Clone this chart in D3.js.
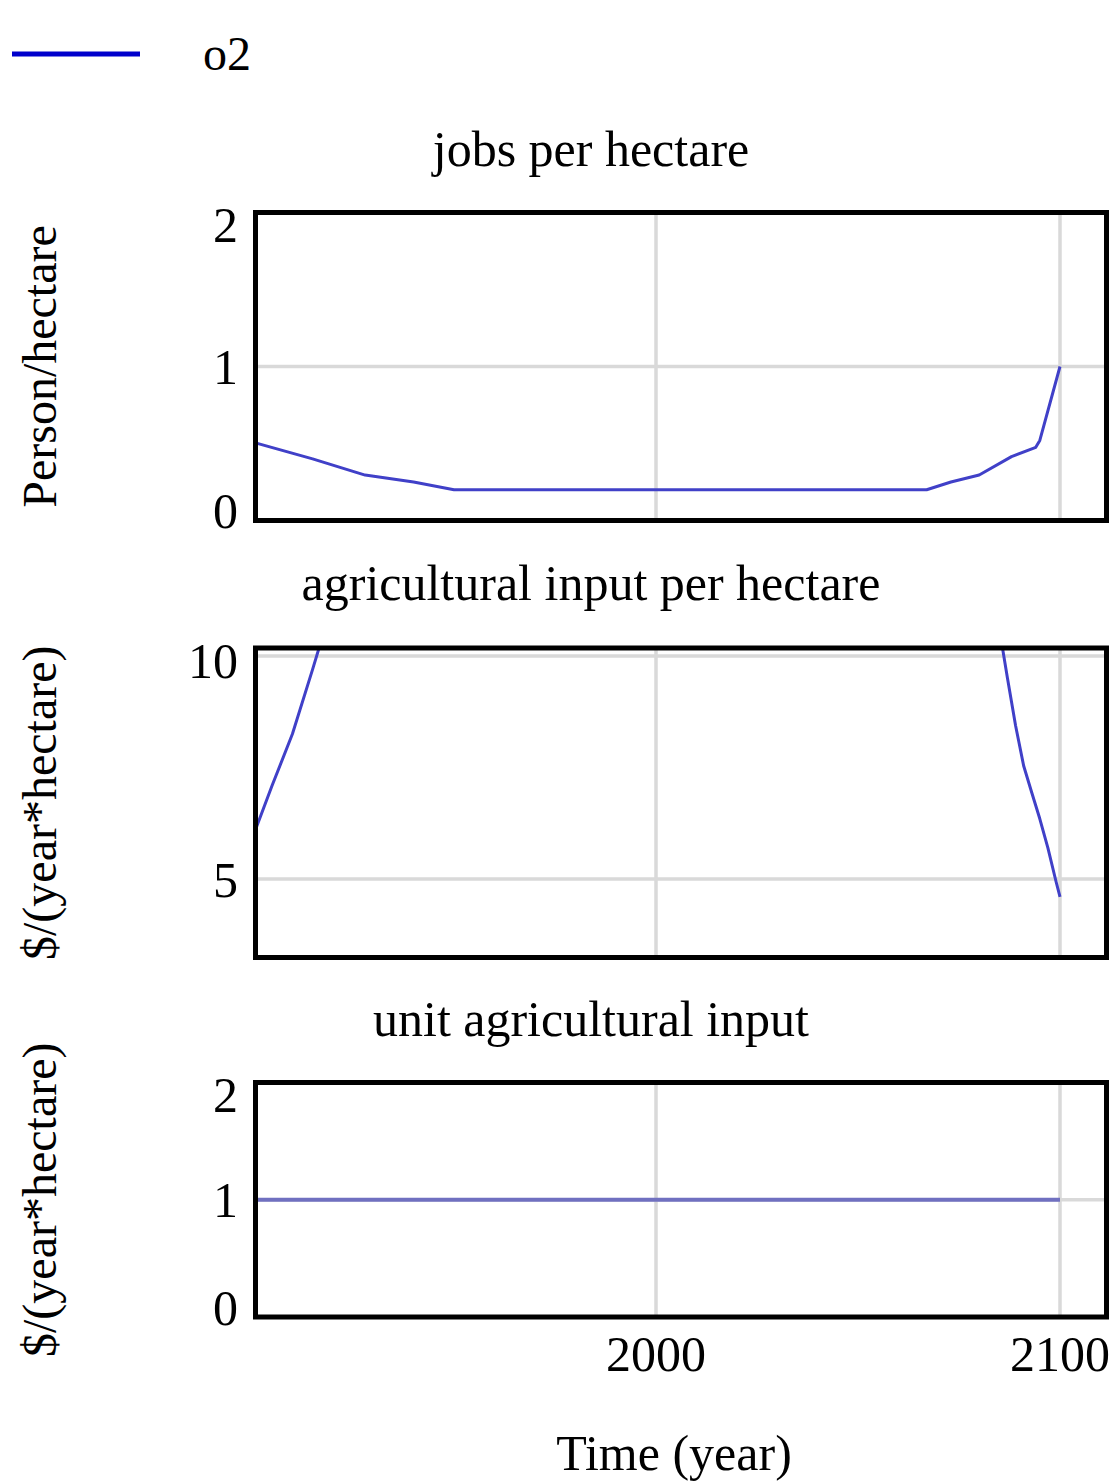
<!DOCTYPE html>
<html>
<head>
<meta charset="utf-8">
<script src="https://cdn.jsdelivr.net/npm/d3@7"></script>
<style>
  html, body { margin: 0; padding: 0; background: #ffffff; }
  svg { display: block; }
  text { font-family: "Liberation Serif", "DejaVu Serif", serif; fill: #000; }
</style>
</head>
<body>
<svg id="chart" width="1113" height="1481"></svg>
<script>
// ---------- data ----------
const seriesName = "o2";
const xTicks = [2000, 2100];
const xTickLabels = ["2000", "2100"];
const xAxisTitle = "Time (year)";

const panelTitles = ["jobs per hectare", "agricultural input per hectare", "unit agricultural input"];
const panelUnits = ["Person/hectare", "$/(year*hectare)", "$/(year*hectare)"];

const yTicks1 = [0, 1, 2];
const yTicks2 = [5, 10];
const yTicks3 = [0, 1, 2];

// jobs per hectare
const jobsYears  = [1900, 1915, 1928, 1940, 1950, 2067, 2073, 2080, 2088, 2094, 2095, 2100];
const jobsValues = [0.51, 0.40, 0.295, 0.25, 0.20, 0.20, 0.25, 0.295, 0.415, 0.475, 0.52, 1.0];

// agricultural input per hectare (middle part is far above the visible range)
const agriYears  = [1900, 1905, 1910, 1915, 1920, 2080, 2085, 2087, 2089, 2091, 2093, 2095, 2097, 2099, 2100];
const agriValues = [5.9, 7.1, 8.25, 9.7, 11.2, 13.0, 10.6, 9.5, 8.44, 7.54, 6.94, 6.35, 5.7, 4.95, 4.6];

// unit agricultural input
const unitYears  = [1900, 2100];
const unitValues = [1, 1];

// ---------- layout ----------
const svg = d3.select("#chart");
const frameLeft = 255.5, frameRight = 1106.5;
const x = d3.scaleLinear().domain([1900, 2100]).range([252, 1060]);

const panels = [
  { title: panelTitles[0], unit: panelUnits[0], years: jobsYears, values: jobsValues,
    ticks: yTicks1, y: d3.scaleLinear().domain([0, 2]).range([520.5, 212.5]),
    top: 212.5, bottom: 520.5, titleY: 166, lineColor: "#4040c8" },
  { title: panelTitles[1], unit: panelUnits[1], years: agriYears, values: agriValues,
    ticks: yTicks2, y: d3.scaleLinear().domain([5, 10]).range([879, 656]),
    top: 648, bottom: 957.5, titleY: 600, lineColor: "#4040c8" },
  { title: panelTitles[2], unit: panelUnits[2], years: unitYears, values: unitValues,
    ticks: yTicks3, y: d3.scaleLinear().domain([0, 2]).range([1317, 1082.5]),
    top: 1082.5, bottom: 1317, titleY: 1036, lineColor: "#7070c0" }
];

const fontSize = 50;
const unitFontSize = 48;

// legend
svg.append("line").attr("x1", 12).attr("x2", 140).attr("y1", 54).attr("y2", 54)
  .attr("stroke", "#0000cc").attr("stroke-width", 5);
svg.append("text").attr("x", 203).attr("y", 70).attr("font-size", 48).text(seriesName);

panels.forEach((p, i) => {
  const g = svg.append("g");
  const clipId = "clip" + i;
  svg.append("defs").append("clipPath").attr("id", clipId)
    .append("rect").attr("x", frameLeft).attr("y", p.top)
    .attr("width", frameRight - frameLeft).attr("height", p.bottom - p.top);

  // title
  g.append("text").attr("x", 591).attr("y", p.titleY).attr("text-anchor", "middle")
    .attr("font-size", fontSize).text(p.title);

  // unit label (rotated)
  const midY = (p.top + p.bottom) / 2;
  g.append("text")
    .attr("transform", `translate(56,${midY}) rotate(-90)`)
    .attr("text-anchor", "middle").attr("font-size", unitFontSize).text(p.unit);

  // grid
  const grid = g.append("g").attr("clip-path", `url(#${clipId})`);
  grid.selectAll("line.h").data(p.ticks).join("line").attr("class", "h")
    .attr("x1", frameLeft).attr("x2", frameRight)
    .attr("y1", d => p.y(d)).attr("y2", d => p.y(d))
    .attr("stroke", "#d9d9d9").attr("stroke-width", 3.5);
  grid.selectAll("line.v").data(xTicks).join("line").attr("class", "v")
    .attr("x1", d => x(d)).attr("x2", d => x(d))
    .attr("y1", p.top).attr("y2", p.bottom)
    .attr("stroke", "#d9d9d9").attr("stroke-width", 3.5);

  // y tick labels
  g.selectAll("text.yt").data(p.ticks).join("text").attr("class", "yt")
    .attr("x", 238)
    .attr("y", d => Math.max(p.top + 12, Math.min(p.bottom - 10, p.y(d))))
    .attr("dy", "0.35em")
    .attr("text-anchor", "end").attr("font-size", fontSize).text(d => d);

  // data line
  const pts = p.years.map((yr, k) => [yr, p.values[k]]);
  const line = d3.line().x(d => x(d[0])).y(d => p.y(d[1]));
  g.append("path").attr("clip-path", `url(#${clipId})`)
    .attr("d", line(pts)).attr("fill", "none")
    .attr("stroke", p.lineColor).attr("stroke-width", i === 2 ? 4 : 3)
    .attr("stroke-linejoin", "round");

  // frame
  g.append("rect").attr("x", frameLeft).attr("y", p.top)
    .attr("width", frameRight - frameLeft).attr("height", p.bottom - p.top)
    .attr("fill", "none").attr("stroke", "#000").attr("stroke-width", 5);
});

// x tick labels under last panel
svg.selectAll("text.xt").data(xTicks).join("text").attr("class", "xt")
  .attr("x", d => x(d)).attr("y", 1353).attr("dy", "0.35em")
  .attr("text-anchor", "middle").attr("font-size", fontSize)
  .text((d, k) => xTickLabels[k]);

svg.append("text").attr("x", 674).attr("y", 1470).attr("text-anchor", "middle")
  .attr("font-size", fontSize).text(xAxisTitle);
</script>
</body>
</html>
